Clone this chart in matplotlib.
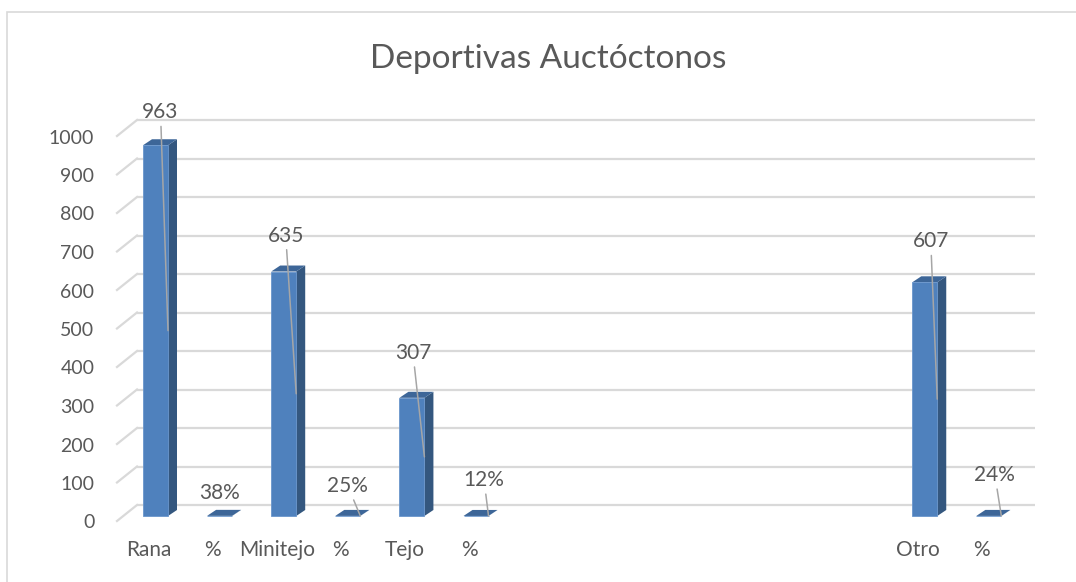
import numpy as np
import matplotlib
matplotlib.use("Agg")
import matplotlib.pyplot as plt
from matplotlib.patches import Polygon, Rectangle
from matplotlib.transforms import ScaledTranslation

# ---------- Dados ----------
categorias = ["Rana", "%", "Minitejo", "%", "Tejo", "%",
              "", "", "", "", "", "", "Otro", "%"]
valores = [963, 0.38, 635, 0.25, 307, 0.12,
           np.nan, np.nan, np.nan, np.nan, np.nan, np.nan, 607, 0.24]
titulo = "Deportivas Auctóctonos"
marcas_y = list(range(0, 1001, 100))

# deslocamento dos rótulos de dados (px a partir do topo da barra)
desloc_rotulos = [(5, 33), (0, 23), (2, 36), (0, 30), (1, 45), (8, 36),
                  None, None, None, None, None, None, (6, 41), (6, 41)]

# ---------- Estilo ----------
COR_FRENTE = "#4f81bd"
COR_LADO = "#34577f"
COR_TOPO = "#3d6698"
COR_GRADE = "#d9d9d9"
COR_TEXTO = "#595959"
plt.rcParams["font.family"] = ["Lato", "DejaVu Sans"]

W, H = 1076, 582
fig = plt.figure(figsize=(W / 100, H / 100), dpi=100)

# eixo no plano das barras
x0, x1 = 123.45, 1020.9
y_base, altura = 516, 385
ax = fig.add_axes([x0 / W, (H - y_base) / H, (x1 - x0) / W, altura / H])
ax.set_xlim(-0.5, len(categorias) - 0.5)
ax.set_ylim(0, 1000)
for s in ax.spines.values():
    s.set_visible(False)

# conversão px -> unidades de dados
ux = len(categorias) / (x1 - x0)
uy = 1000 / altura

# ---------- Grade em perspectiva ----------
fx, bx, bx_dir = 117, 137, 1035           # frente-esq., fundo-esq., fundo-dir.
dy_frente, dy_fundo = -5, 11              # px acima do plano das barras
for v in marcas_y:
    xf = (fx - x0) * ux - 0.5
    xb = (bx - x0) * ux - 0.5
    xr = (bx_dir - x0) * ux - 0.5
    ax.plot([xb, xr], [v + dy_fundo * uy] * 2, color=COR_GRADE, lw=1.6,
            clip_on=False, zorder=1, solid_capstyle="butt")
    ax.plot([xf, xb], [v + dy_frente * uy, v + dy_fundo * uy], color=COR_GRADE,
            lw=1.6, clip_on=False, zorder=1)

# ---------- Barras 3D ----------
largura = 25 * ux
prof_x, prof_y = 9 * ux, 6 * uy
pos = np.arange(len(categorias))
for x, v in zip(pos, valores):
    if np.isnan(v):
        continue
    esq, dir_ = x - largura / 2, x + largura / 2
    ax.add_patch(Polygon([(dir_, 0), (dir_ + prof_x, prof_y),
                          (dir_ + prof_x, v + prof_y), (dir_, v)],
                         closed=True, facecolor=COR_LADO, edgecolor="none",
                         zorder=3, clip_on=False))
    ax.add_patch(Polygon([(esq, v), (dir_, v), (dir_ + prof_x, v + prof_y),
                          (esq + prof_x, v + prof_y)],
                         closed=True, facecolor=COR_TOPO, edgecolor="none",
                         zorder=3, clip_on=False))
ax.bar(pos, valores, width=largura, color=COR_FRENTE, edgecolor="#6a96cc",
       linewidth=0.6, zorder=4, clip_on=False)

# ---------- Rótulos de dados ----------
for x, v, d in zip(pos, valores, desloc_rotulos):
    if np.isnan(v) or d is None:
        continue
    txt = f"{v:.0%}" if v < 1 else f"{v:.0f}"
    dx, dy = d
    props = None
    if dy >= 26:
        props = dict(arrowstyle="-", color="#a6a6a6", lw=1.1,
                     shrinkA=1, shrinkB=0)
    ax.annotate(txt, xy=(x + largura / 2, v / 2),
                xytext=(x + dx * ux, v + dy * uy), textcoords="data",
                ha="center", va="center", fontsize=15, color=COR_TEXTO,
                arrowprops=props, zorder=6, annotation_clip=False)

# ---------- Eixos ----------
ax.set_yticks(marcas_y)
ax.set_yticklabels([str(v) for v in marcas_y], fontsize=14, color=COR_TEXTO)
ax.set_xticks(pos)
ax.set_xticklabels(categorias, fontsize=15, color=COR_TEXTO)
ax.tick_params(axis="both", length=0)
ax.tick_params(axis="y", pad=21)
ax.tick_params(axis="x", pad=17)
for lab in ax.get_yticklabels():
    lab.set_transform(lab.get_transform() +
                      ScaledTranslation(0, -5.5 / 100, fig.dpi_scale_trans))
for lab in ax.get_xticklabels():
    lab.set_transform(lab.get_transform() +
                      ScaledTranslation(-7 / 100, 0, fig.dpi_scale_trans))

# ---------- Título e moldura ----------
fig.text(548.5 / W, 1 - 68 / H, titulo, ha="center", va="baseline",
         fontsize=24, color=COR_TEXTO)
fig.patches.append(Rectangle((7 / W, -0.1), 2, (H - 12) / H + 0.1,
                             transform=fig.transFigure, fill=False,
                             edgecolor=COR_GRADE, lw=1.2))

fig.savefig("out.png", dpi=100)
